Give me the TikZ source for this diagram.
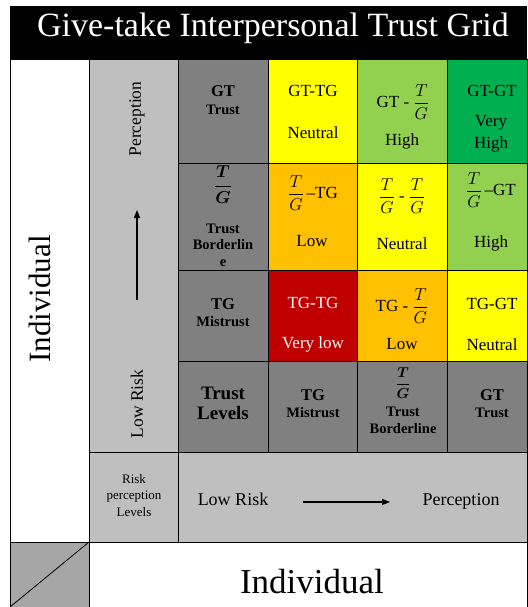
\documentclass[tikz,border=0pt]{standalone}
\usepackage{amsmath}
\usepackage{fontspec}
\setmainfont{Liberation Serif}
\usetikzlibrary{arrows.meta}
\definecolor{midgray}{RGB}{128,128,128}
\definecolor{riskgray}{RGB}{191,191,191}
\definecolor{cornergray}{RGB}{166,166,166}
\definecolor{yellowc}{RGB}{255,255,0}
\definecolor{ltgreen}{RGB}{146,208,80}
\definecolor{dkgreen}{RGB}{0,176,80}
\definecolor{orangec}{RGB}{255,192,0}
\definecolor{redc}{RGB}{192,0,0}
\newcommand{\tgfrac}{$\dfrac{T}{G}$}
\newcommand{\tgbold}{$\boldsymbol{\dfrac{T}{G}}$}
\tikzset{
  grid/.style    = {draw=black, line width=0.8pt},
  lbl/.style     = {inner sep=0pt, anchor=base, font=\fontsize{17}{20}\selectfont},
  fracbox/.style = {inner sep=0pt, anchor=center, font=\fontsize{17}{20}\selectfont},
  bhead/.style   = {inner sep=0pt, anchor=base, font=\fontsize{16.5}{19}\selectfont\bfseries},
  bsub/.style    = {inner sep=0pt, anchor=base, font=\fontsize{14.5}{17}\selectfont\bfseries},
  small/.style   = {inner sep=0pt, anchor=base, font=\fontsize{13}{15}\selectfont},
  side/.style    = {inner sep=0pt, rotate=90, font=\fontsize{17.5}{20}\selectfont},
  arrow/.style   = {-{Triangle[length=8pt, width=6pt]}, line width=1.1pt},
}

\begin{document}
\begin{tikzpicture}[x=1pt, y=-1pt]
  \useasboundingbox (0,0) rectangle (527,607);

  % title band
  \fill[black] (10,6) rectangle (527,59);
  \node[lbl, text=white, font=\fontsize{34}{40}\selectfont] (title) at (273,37)
    {Give-take Interpersonal Trust Grid};

  % side columns
  \filldraw[grid, fill=white] (10,59) rectangle (89,542);
  \filldraw[grid, fill=riskgray] (89,59) rectangle (178,452);

  % grid cells, one row per entry
  \foreach \ya/\yb/\ca/\cb/\cc/\cd in {59/163/midgray/yellowc/ltgreen/dkgreen,
      163/270/midgray/orangec/yellowc/ltgreen,
      270/361/midgray/redc/orangec/yellowc,
      361/452/midgray/midgray/midgray/midgray} {
    \filldraw[grid, fill=\ca] (178,\ya) rectangle (268,\yb);
    \filldraw[grid, fill=\cb] (268,\ya) rectangle (357,\yb);
    \filldraw[grid, fill=\cc] (357,\ya) rectangle (447,\yb);
    \filldraw[grid, fill=\cd] (447,\ya) rectangle (527,\yb);
  }

  % bottom rows
  \filldraw[grid, fill=riskgray] (89,452) rectangle (178,542);
  \filldraw[grid, fill=riskgray] (178,452) rectangle (527,542);
  \filldraw[grid, fill=cornergray] (10,542) rectangle (89,607);
  \draw[grid] (10,607) -- (89,542);
  \draw[grid] (89,542) rectangle (527,607);

  % trust levels (bold)
  \foreach \nm/\px/\py/\txt in {gt1/223/96/GT, tg1/223/309/TG,
      tg2/313/400/TG, gt2/492/400/GT} {
    \node[bhead] (\nm) at (\px,\py) {\txt};
  }
  \foreach \nm/\px/\py/\txt in {trust1/223/114/Trust, trust2/223/233/Trust,
      bord1/223/249/Borderlin, bord1e/223/266/e, mis1/223/326/Mistrust,
      mis2/313/417/Mistrust, trust3/403/416/Trust, bord2/403/433/Borderline,
      trust4/492/417/Trust} {
    \node[bsub] (\nm) at (\px,\py) {\txt};
  }
  \node[fracbox, font=\fontsize{16}{19}\selectfont] (tgb1) at (223,185) {\tgbold};
  \node[fracbox, font=\fontsize{15}{18}\selectfont] (tgb2) at (403,383) {\tgbold};
  \node[bhead, font=\fontsize{19}{22}\selectfont\bfseries] (lev1) at (223,399) {Trust};
  \node[bhead, font=\fontsize{19}{22}\selectfont\bfseries] (lev2) at (223,419) {Levels};

  % combinations
  \foreach \nm/\px/\py/\txt in {c11/313/96/GT-TG, c11b/313/138/Neutral,
      c12b/402/145/High, c13/492/96/GT-GT, c13b/491/127/Very, c13c/491/148/High,
      c21b/312/246/Low, c22b/402/249/Neutral, c23b/491/247/High,
      c32b/402/349/Low, c33/492/309/TG-GT, c33b/492/350/Neutral} {
    \node[lbl] (\nm) at (\px,\py) {\txt};
  }
  \node[lbl, text=white] (c31) at (313,308) {TG-TG};
  \node[lbl, text=white] (c31b) at (313,348) {Very low};
  \node[fracbox] (c12) at (403,102) {GT - \tgfrac};
  \node[fracbox] (c21) at (313,193) {\tgfrac\,–TG};
  \node[fracbox] (c22) at (402,196) {\tgfrac\ - \tgfrac};
  \node[fracbox] (c23) at (491,190) {\tgfrac\,–GT};
  \node[fracbox] (c32) at (402,306) {TG - \tgfrac};

  % risk perception axis
  \node[side] (perc-up) at (137,119) {Perception};
  \node[side] (low-up) at (137,404) {Low Risk};
  \coordinate (up-a) at (137,300);
  \coordinate (up-b) at (137,210);
  \draw[arrow] (up-a) -- (up-b);

  \node[small] (risk1) at (134,483) {Risk};
  \node[small] (risk2) at (134,499) {perception};
  \node[small] (risk3) at (134,516) {Levels};
  \node[lbl, font=\fontsize{18}{21}\selectfont] (low-right) at (233,505) {Low Risk};
  \node[lbl, font=\fontsize{18}{21}\selectfont] (perc-right) at (461,505) {Perception};
  \coordinate (rt-a) at (303,502);
  \coordinate (rt-b) at (390,502);
  \draw[arrow] (rt-a) -- (rt-b);

  % individual
  \node[side, anchor=base, font=\fontsize{31}{36}\selectfont] (indiv-side) at (50,299) {Individual};
  \node[lbl, font=\fontsize{35}{40}\selectfont] (indiv-bottom) at (312,593) {Individual};
\end{tikzpicture}
\end{document}
